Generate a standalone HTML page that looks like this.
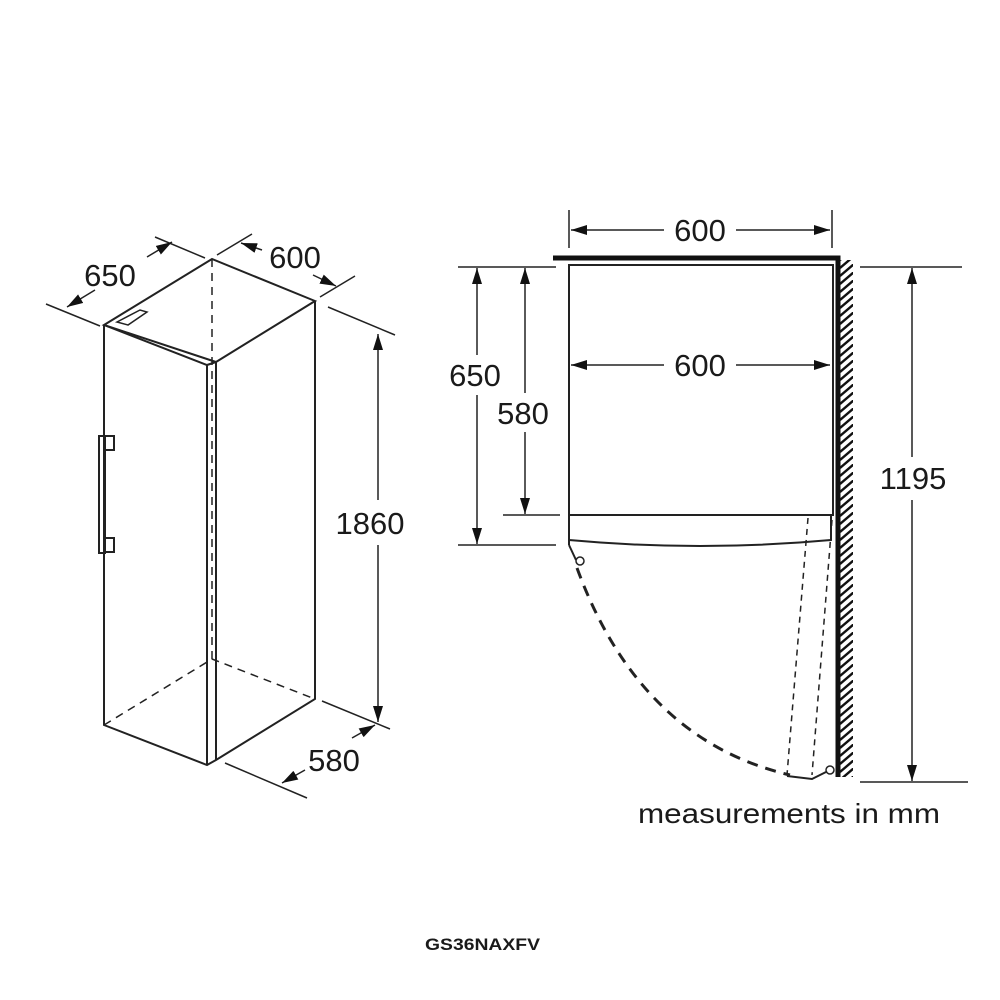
<!DOCTYPE html>
<html><head><meta charset="utf-8"><style>
html,body{margin:0;padding:0;background:#fff;}
svg{display:block;}
text{font-family:"Liberation Sans",Arial,sans-serif;fill:#1a1a1a;}
</style></head><body>
<svg width="1000" height="1000" viewBox="0 0 1000 1000" xmlns="http://www.w3.org/2000/svg">
<defs>
<marker id="a" viewBox="0 0 16 10" refX="16" refY="5" markerWidth="16" markerHeight="10" markerUnits="userSpaceOnUse" orient="auto">
<path d="M0,0 L16,5 L0,10 Z" fill="#111"/></marker>
<pattern id="h" width="14" height="8" patternUnits="userSpaceOnUse">
<path d="M0,12 L14,0 M0,4 L14,-8" stroke="#111" stroke-width="2.4"/></pattern>
</defs>
<g stroke="#222" fill="none" stroke-width="2">
<!-- left fridge -->
<path d="M104,325 L212,259 L315,301 L216,362 Z"/>
<path d="M104,325 L207,365 L216,362"/>
<path d="M104,325 L104,725 L207,765 L216,760 L315,699 L315,301"/>
<path d="M207,365 L207,765 M216,362 L216,760"/>
<path d="M212,259 L212,659 M104,725 L212,659 L315,699" stroke-dasharray="8,6" stroke-width="1.5"/>
<path d="M117,322 L140,310 L147,312 L128,325 Z" stroke-width="1.5"/>
<rect x="99" y="436" width="6" height="117" stroke-width="2"/>
<rect x="104" y="436" width="10" height="14" stroke-width="2"/>
<rect x="104" y="538" width="10" height="14" stroke-width="2"/>
<!-- dims left -->
<g stroke-width="1.5">
<path d="M46,304 L100,326 M155,237 L205,258"/>
<path d="M217,255 L252,234 M320,297 L355,276"/>
<path d="M328,307 L395,335 M322,701 L390,729"/>
<path d="M225,763 L307,798"/>
</g>
<path d="M95,290 L67,307" marker-end="url(#a)" stroke-width="1.5"/>
<path d="M147,257 L172,242" marker-end="url(#a)" stroke-width="1.5"/>
<path d="M262,250 L241,243" marker-end="url(#a)" stroke-width="1.5"/>
<path d="M313,275 L336,286" marker-end="url(#a)" stroke-width="1.5"/>
<path d="M378,500 L378,334" marker-end="url(#a)" stroke-width="1.5"/>
<path d="M378,545 L378,722" marker-end="url(#a)" stroke-width="1.5"/>
<path d="M352,738 L375,725" marker-end="url(#a)" stroke-width="1.5"/>
<path d="M305,770 L282,783" marker-end="url(#a)" stroke-width="1.5"/>
<!-- right plan -->
<path d="M553,258 L838,258 L838,777" stroke-width="5" stroke="#111"/>
<rect x="840" y="260" width="13" height="517" fill="url(#h)" stroke="none"/>
<rect x="569" y="265" width="264" height="250"/>
<path d="M569,515 L833,515"/>
<path d="M569,515 L569,545 M569,540 Q700,552 831,540 L831,515"/>
<path d="M569,545 L576,560"/>
<circle cx="580" cy="561" r="4" stroke-width="1.5"/>
<path d="M577,568 Q640,740 790,775" stroke-width="3" stroke-dasharray="11,8"/>
<path d="M808,518 L787,775 M832,520 L812,775" stroke-dasharray="6,5" stroke-width="1.5"/>
<path d="M787,776 L812,779 L826,772"/>
<circle cx="830" cy="770" r="4" stroke-width="1.5"/>
<g stroke-width="1.5">
<path d="M569,210 L569,248 M832,210 L832,248"/>
<path d="M458,267 L556,267 M458,545 L556,545 M503,515 L560,515"/>
<path d="M860,267 L962,267 M860,782 L968,782"/>
</g>
<path d="M664,230 L571,230" marker-end="url(#a)" stroke-width="1.5"/>
<path d="M736,230 L830,230" marker-end="url(#a)" stroke-width="1.5"/>
<path d="M664,365 L571,365" marker-end="url(#a)" stroke-width="1.5"/>
<path d="M736,365 L830,365" marker-end="url(#a)" stroke-width="1.5"/>
<path d="M477,355 L477,268" marker-end="url(#a)" stroke-width="1.5"/>
<path d="M477,395 L477,544" marker-end="url(#a)" stroke-width="1.5"/>
<path d="M525,393 L525,268" marker-end="url(#a)" stroke-width="1.5"/>
<path d="M525,432 L525,514" marker-end="url(#a)" stroke-width="1.5"/>
<path d="M912,457 L912,268" marker-end="url(#a)" stroke-width="1.5"/>
<path d="M912,500 L912,781" marker-end="url(#a)" stroke-width="1.5"/>
</g>
<g font-size="31" text-anchor="middle">
<text x="110" y="286">650</text>
<text x="295" y="268">600</text>
<text x="370" y="534">1860</text>
<text x="334" y="771">580</text>
<text x="700" y="241">600</text>
<text x="700" y="376">600</text>
<text x="475" y="386">650</text>
<text x="523" y="424">580</text>
<text x="913" y="489">1195</text>
</g>
<text x="638" y="823" font-size="28" textLength="302" lengthAdjust="spacingAndGlyphs">measurements in mm</text>
<text x="425" y="950" font-size="17" font-weight="bold" textLength="115" lengthAdjust="spacingAndGlyphs" fill="#000">GS36NAXFV</text>
</svg>
</body></html>
